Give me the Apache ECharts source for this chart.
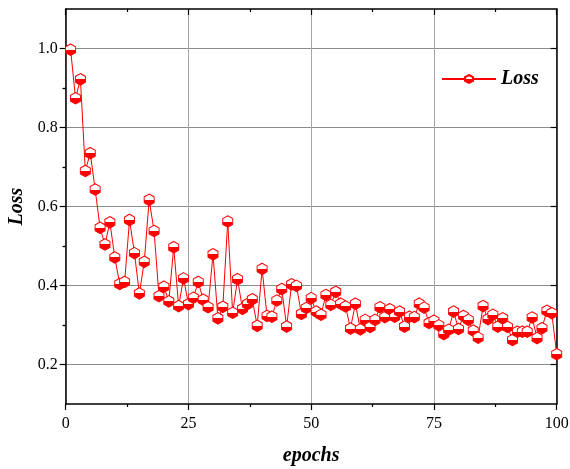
<!DOCTYPE html>
<html>
<head>
<meta charset="utf-8">
<script src="https://cdn.jsdelivr.net/npm/echarts@6/dist/echarts.min.js"></script>
<style>
  html, body { margin: 0; padding: 0; background: #fff; }
  #chart { width: 570px; height: 469px; }
</style>
</head>
<body>
<div id="chart"></div>
<script>
// epoch numbers and loss values
const epochs = [];
for (let i = 1; i <= 100; i++) epochs.push(i);
const loss = [
  0.997, 0.874, 0.922, 0.690, 0.735, 0.643, 0.546, 0.504, 0.560, 0.471,
  0.404, 0.409, 0.566, 0.482, 0.380, 0.460, 0.617, 0.538, 0.373, 0.397,
  0.360, 0.497, 0.348, 0.418, 0.353, 0.369, 0.409, 0.364, 0.345, 0.479,
  0.317, 0.346, 0.562, 0.331, 0.416, 0.341, 0.353, 0.365, 0.298, 0.442,
  0.323, 0.321, 0.362, 0.391, 0.296, 0.403, 0.399, 0.328, 0.343, 0.368,
  0.334, 0.326, 0.376, 0.351, 0.384, 0.354, 0.347, 0.291, 0.354, 0.289,
  0.313, 0.295, 0.313, 0.345, 0.320, 0.340, 0.321, 0.334, 0.296, 0.321,
  0.320, 0.354, 0.344, 0.305, 0.311, 0.299, 0.277, 0.288, 0.334, 0.290,
  0.323, 0.313, 0.286, 0.268, 0.348, 0.315, 0.326, 0.296, 0.317, 0.295,
  0.262, 0.283, 0.283, 0.283, 0.319, 0.267, 0.292, 0.336, 0.330, 0.226
];
const yMajor = [0.2, 0.4, 0.6, 0.8, 1.0];
const yMinor = [0.3, 0.5, 0.7, 0.9];

const serif = "'Liberation Serif', 'Times New Roman', serif";
const hexagon = 'path://M0,-10L8.66,-5L8.66,5L0,10L-8.66,5L-8.66,-5Z';
const halfFill = {
  type: 'linear', x: 0, y: 0, x2: 0, y2: 1,
  colorStops: [
    { offset: 0, color: '#ffffff' }, { offset: 0.5, color: '#ffffff' },
    { offset: 0.5, color: '#ff0000' }, { offset: 1, color: '#ff0000' }
  ]
};

const axisLine = { show: true, onZero: false, lineStyle: { color: '#000', width: 1.5 } };
const yBase = { type: 'value', min: 0.1, max: 1.1, interval: 0.1 };

const chart = echarts.init(document.getElementById('chart'), null, { renderer: 'canvas' });
chart.setOption({
  animation: false,
  backgroundColor: '#fff',
  grid: { left: 65.7, right: 13.3, top: 9, bottom: 65, outerBoundsMode: 'none' },
  legend: {
    left: 436, top: 64,
    itemWidth: 54, itemHeight: 10, itemGap: 8,
    textStyle: { fontFamily: serif, fontSize: 20, fontWeight: 'bold', fontStyle: 'italic', color: '#000' },
    data: ['Loss']
  },
  xAxis: [
    {
      type: 'value', min: 0, max: 100, interval: 25, position: 'bottom',
      name: 'epochs', nameLocation: 'middle', nameGap: 42,
      nameTextStyle: { fontFamily: serif, fontSize: 20, fontWeight: 'bold', fontStyle: 'italic', color: '#000' },
      axisLine: axisLine,
      axisTick: { show: true, length: 6, lineStyle: { color: '#000', width: 1.2 } },
      minorTick: { show: true, splitNumber: 2, length: 3, lineStyle: { color: '#000', width: 1.2 } },
      axisLabel: { margin: 12, fontFamily: serif, fontSize: 16, color: '#000' },
      splitLine: { show: true, lineStyle: { color: '#a6a6a6', width: 1 } }
    },
    {
      type: 'value', min: 0, max: 100, interval: 25, position: 'top',
      axisLine: axisLine,
      axisTick: { show: true, inside: true, length: 6, lineStyle: { color: '#000', width: 1.2 } },
      minorTick: { show: true, splitNumber: 2, length: 3, lineStyle: { color: '#000', width: 1.2 } },
      axisLabel: { show: false },
      splitLine: { show: false }
    }
  ],
  yAxis: [
    Object.assign({}, yBase, {
      position: 'left',
      name: 'Loss', nameLocation: 'middle', nameGap: 38, nameRotate: 90,
      nameTextStyle: { fontFamily: serif, fontSize: 20, fontWeight: 'bold', fontStyle: 'italic', color: '#000' },
      axisLine: axisLine,
      axisTick: { show: true, length: 6, customValues: yMajor, lineStyle: { color: '#000', width: 1.2 } },
      axisLabel: { margin: 8, customValues: yMajor, fontFamily: serif, fontSize: 16, color: '#000',
        formatter: v => v.toFixed(1) },
      splitLine: { show: true, lineStyle: { color: '#8c8c8c', width: 1 } }
    }),
    Object.assign({}, yBase, {
      position: 'left',
      axisLine: { show: false },
      axisTick: { show: true, length: 3, customValues: yMinor, lineStyle: { color: '#000', width: 1.2 } },
      axisLabel: { show: false },
      splitLine: { show: false }
    }),
    Object.assign({}, yBase, {
      position: 'right',
      axisLine: axisLine,
      axisTick: { show: true, inside: true, length: 6, customValues: yMajor, lineStyle: { color: '#000', width: 1.2 } },
      axisLabel: { show: false },
      splitLine: { show: false }
    }),
    Object.assign({}, yBase, {
      position: 'right',
      axisLine: { show: false },
      axisTick: { show: true, inside: true, length: 3, customValues: yMinor, lineStyle: { color: '#000', width: 1.2 } },
      axisLabel: { show: false },
      splitLine: { show: false }
    })
  ],
  series: [
    {
      name: 'Loss',
      type: 'line',
      xAxisIndex: 0, yAxisIndex: 0,
      data: epochs.map((e, i) => [e, loss[i]]),
      symbol: hexagon,
      symbolSize: [10, 11.5],
      showAllSymbol: true,
      clip: false,
      lineStyle: { color: '#ff0000', width: 1 },
      itemStyle: { color: halfFill, borderColor: '#ff0000', borderWidth: 1 }
    }
  ]
});
</script>
</body>
</html>
